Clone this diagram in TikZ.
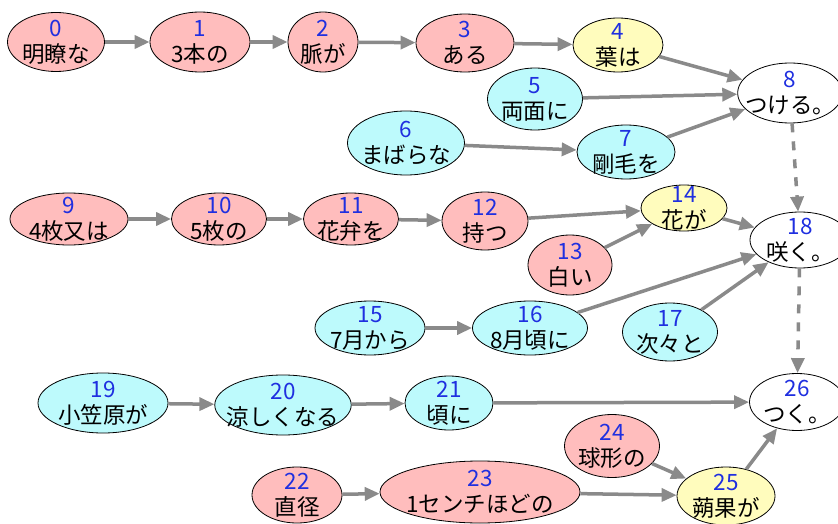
\documentclass[tikz,border=0pt]{standalone}
\usepackage{fontspec}
\newfontfamily\jp{Noto Sans CJK JP}
\usetikzlibrary{shapes.geometric,arrows.meta}
\definecolor{numblue}{HTML}{1F2FE0}
\definecolor{pinkfill}{HTML}{FFBDBD}
\definecolor{cyanfill}{HTML}{BDFAFC}
\definecolor{yellowfill}{HTML}{FFFCBD}
\definecolor{edgegray}{HTML}{8A8A8A}
\newcommand{\lbl}[2]{\textcolor{numblue}{#1}\\#2}

\begin{document}
\begin{tikzpicture}[x=1pt, y=-1pt,
    word/.style={ellipse, draw=black, line width=0.8pt, inner xsep=-8pt, inner ysep=-6pt, align=center,
      font=\jp\fontsize{22.5}{26}\selectfont},
    pinkword/.style={word, fill=pinkfill},
    cyanword/.style={word, fill=cyanfill},
    yellowword/.style={word, fill=yellowfill},
    whiteword/.style={word, fill=white},
    dep/.style={-{Triangle[length=15pt,width=13pt]}, draw=edgegray, line width=3.5pt},
    link/.style={dep, dash pattern=on 9pt off 9pt}]
    \useasboundingbox (0,0) rectangle (838,524);
    % Nodes
    \node[pinkword, minimum width=97, minimum height=59] (w0) at (56,42) {\lbl{0}{明瞭な}};
    \node[pinkword, minimum width=100, minimum height=60] (w1) at (200,42) {\lbl{1}{3本の}};
    \node[pinkword, minimum width=70, minimum height=60] (w2) at (323,42) {\lbl{2}{脈が}};
    \node[pinkword, minimum width=98, minimum height=58] (w3) at (465,43) {\lbl{3}{ある}};
    \node[yellowword, minimum width=90, minimum height=54] (w4) at (618,45) {\lbl{4}{葉は}};
    \node[cyanword, minimum width=95, minimum height=62] (w5) at (535,99) {\lbl{5}{両面に}};
    \node[cyanword, minimum width=117, minimum height=64] (w6) at (406,143) {\lbl{6}{まばらな}};
    \node[cyanword, minimum width=98, minimum height=54] (w7) at (626,152) {\lbl{7}{剛毛を}};
    \node[whiteword, minimum width=104, minimum height=60] (w8) at (790,93) {\lbl{8}{つける。}};
    \node[pinkword, minimum width=118, minimum height=52] (w9) at (69,219) {\lbl{9}{4枚又は}};
    \node[pinkword, minimum width=95, minimum height=52] (w10) at (219,219) {\lbl{10}{5枚の}};
    \node[pinkword, minimum width=95, minimum height=52] (w11) at (351,219) {\lbl{11}{花弁を}};
    \node[pinkword, minimum width=86, minimum height=58] (w12) at (485,221) {\lbl{12}{持つ}};
    \node[pinkword, minimum width=84, minimum height=60] (w13) at (570,265) {\lbl{13}{白い}};
    \node[yellowword, minimum width=86, minimum height=46] (w14) at (684,208) {\lbl{14}{花が}};
    \node[whiteword, minimum width=100, minimum height=56] (w18) at (800,240) {\lbl{18}{咲く。}};
    \node[cyanword, minimum width=110, minimum height=54] (w15) at (370,328) {\lbl{15}{7月から}};
    \node[cyanword, minimum width=115, minimum height=54] (w16) at (530,328) {\lbl{16}{8月頃に}};
    \node[cyanword, minimum width=95, minimum height=58] (w17) at (670,332) {\lbl{17}{次々と}};
    \node[cyanword, minimum width=130, minimum height=60] (w19) at (103,403) {\lbl{19}{小笠原が}};
    \node[cyanword, minimum width=135, minimum height=60] (w20) at (283,405) {\lbl{20}{涼しくなる}};
    \node[cyanword, minimum width=88, minimum height=54] (w21) at (449,403) {\lbl{21}{頃に}};
    \node[whiteword, minimum width=95, minimum height=57] (w26) at (797,402) {\lbl{26}{つく。}};
    \node[pinkword, minimum width=95, minimum height=63] (w24) at (612,446) {\lbl{24}{球形の}};
    \node[pinkword, minimum width=90, minimum height=56] (w22) at (297,495) {\lbl{22}{直径}};
    \node[pinkword, minimum width=200, minimum height=62] (w23) at (480,492) {\lbl{23}{1センチほどの}};
    \node[yellowword, minimum width=98, minimum height=58] (w25) at (726,496) {\lbl{25}{蒴果が}};
    % Dependencies
    \draw[dep] (w0) -- (w1);
    \draw[dep] (w1) -- (w2);
    \draw[dep] (w2) -- (w3);
    \draw[dep] (w3) -- (w4);
    \draw[dep] (w4) -- (w8);
    \draw[dep] (w5) -- (w8);
    \draw[dep] (w6) -- (w7);
    \draw[dep] (w7) -- (w8);
    \draw[dep] (w9) -- (w10);
    \draw[dep] (w10) -- (w11);
    \draw[dep] (w11) -- (w12);
    \draw[dep] (w12) -- (w14);
    \draw[dep] (w13) -- (w14);
    \draw[dep] (w14) -- (w18);
    \draw[dep] (w15) -- (w16);
    \draw[dep] (w16) -- (w18);
    \draw[dep] (w17) -- (w18);
    \draw[dep] (w19) -- (w20);
    \draw[dep] (w20) -- (w21);
    \draw[dep] (w21) -- (w26);
    \draw[dep] (w22) -- (w23);
    \draw[dep] (w23) -- (w25);
    \draw[dep] (w24) -- (w25);
    \draw[dep] (w25) -- (w26);
    % Sentence links
    \draw[link] (w8) -- (w18);
    \draw[link] (w18) -- (w26);
\end{tikzpicture}
\end{document}
